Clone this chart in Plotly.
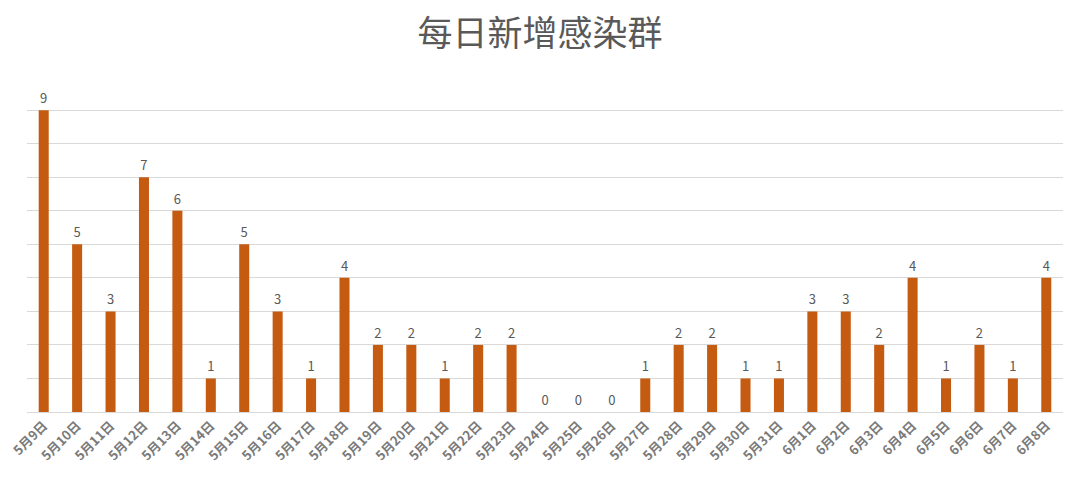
import plotly.graph_objects as go

dates = ["5月9日", "5月10日", "5月11日", "5月12日", "5月13日", "5月14日", "5月15日", "5月16日",
         "5月17日", "5月18日", "5月19日", "5月20日", "5月21日", "5月22日", "5月23日", "5月24日",
         "5月25日", "5月26日", "5月27日", "5月28日", "5月29日", "5月30日", "5月31日",
         "6月1日", "6月2日", "6月3日", "6月4日", "6月5日", "6月6日", "6月7日", "6月8日"]
new_clusters = [9, 5, 3, 7, 6, 1, 5, 3, 1, 4, 2, 2, 1, 2, 2, 0, 0, 0, 1, 2, 2, 1, 1,
                3, 3, 2, 4, 1, 2, 1, 4]

fig = go.Figure(go.Bar(
    x=dates, y=new_clusters,
    marker=dict(color="#C55A11", line=dict(width=0)),
    text=[str(v) for v in new_clusters], textposition="outside",
    textfont=dict(size=13, color="#595959", family="Noto Sans CJK SC"),
    cliponaxis=False,
))

fig.update_layout(
    width=1080, height=491,
    paper_bgcolor="white", plot_bgcolor="white",
    margin=dict(l=19, r=25, t=68, b=87, autoexpand=False),
    bargap=0.7,
    title=dict(text="每日新增感染群", x=0.4926, xanchor="center", y=0.947, yanchor="middle",
               font=dict(size=35, color="#595959", family="Noto Sans CJK SC")),
    xaxis=dict(tickangle=-45, tickfont=dict(size=13, color="#7A7A7A", family="Noto Sans CJK SC", weight="bold"),
               showline=True, linecolor="#D9D9D9", linewidth=1, ticks="", showgrid=False),
    yaxis=dict(range=[0, 10.02], dtick=1, showticklabels=False, showgrid=True,
               gridcolor="#D9D9D9", gridwidth=1, zeroline=False, showline=False),
    showlegend=False,
)

fig.write_html("out.html")
